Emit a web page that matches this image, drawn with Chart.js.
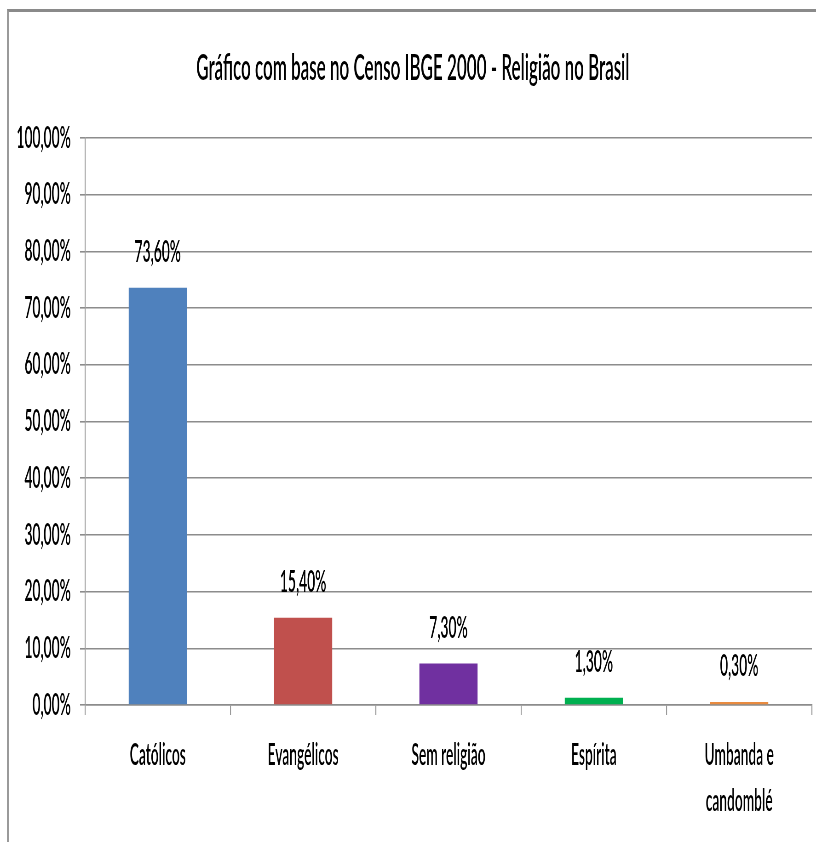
<!DOCTYPE html>
<html>
<head>
<meta charset="utf-8">
<script src="https://cdn.jsdelivr.net/npm/chart.js@4.4.1/dist/chart.umd.min.js"></script>
<style>
  html, body { margin: 0; padding: 0; background: #fff; }
  #wrap { position: relative; width: 816px; height: 842px; overflow: hidden; }
  #c { position: absolute; left: 0; top: 0; }
  #frame { position: absolute; left: 7px; top: 9px; width: 830px; height: 860px;
           border-top: 3px solid #8a8a8a; border-left: 2px solid #9a9a9a; pointer-events: none; }
</style>
</head>
<body>
<div id="wrap">
  <canvas id="c" width="1774" height="842" style="width:816px;height:842px"></canvas>
  <div id="frame"></div>
</div>
<script>
// ---- data ----
const titleText = 'Gráfico com base no Censo IBGE 2000 - Religião no Brasil';
const categories = ['Católicos', 'Evangélicos', 'Sem religião', 'Espírita', ['Umbanda e', 'candomblé']];
const values = [73.6, 15.4, 7.3, 1.3, 0.3];
const barColors = ['#4F81BD', '#C0504D', '#7030A0', '#00B050', '#E98B3F'];
const yMin = 0, yMax = 100, yStep = 10;

// ---- helpers ----
const FONT = 'Lato';
const WEIGHT = '600';
const fmt = v => v.toFixed(2).replace('.', ',') + '%';

const valueLabels = {
  id: 'valueLabels',
  afterDatasetsDraw(chart) {
    const ctx = chart.ctx;
    const meta = chart.getDatasetMeta(0);
    ctx.save();
    ctx.font = WEIGHT + ' 30px ' + FONT;
    ctx.fillStyle = '#000';
    ctx.textAlign = 'center';
    ctx.textBaseline = 'alphabetic';
    meta.data.forEach((bar, i) => {
      ctx.fillText(fmt(values[i]), bar.x, bar.y - 26);
    });
    ctx.restore();
  }
};

new Chart(document.getElementById('c'), {
  type: 'bar',
  data: {
    labels: categories,
    datasets: [{
      data: values,
      backgroundColor: barColors,
      borderWidth: 0,
      barPercentage: 0.4,
      categoryPercentage: 1.0,
      minBarLength: 3
    }]
  },
  options: {
    responsive: false,
    animation: false,
    devicePixelRatio: 1,
    layout: { padding: { top: 0, left: 30, right: 9, bottom: 0 } },
    plugins: {
      legend: { display: false },
      tooltip: { enabled: false },
      title: {
        display: true,
        text: titleText,
        color: '#000',
        font: { family: FONT, size: 37, weight: WEIGHT, lineHeight: 1.2 },
        padding: { top: 46, bottom: 47.6 }
      }
    },
    scales: {
      x: {
        grid: { offset: true, drawOnChartArea: false, drawTicks: true, tickLength: 10, color: '#9a9a9a', lineWidth: 2.2 },
        border: { display: true, color: '#8c8c8c', width: 1.6 },
        ticks: { color: '#000', padding: 17, maxRotation: 0, autoSkip: false,
                 font: { family: FONT, size: 30, weight: WEIGHT, lineHeight: 1.55 } },
        afterFit(scale) { scale.height = 137; }
      },
      y: {
        min: yMin, max: yMax,
        grid: { color: '#8c8c8c', lineWidth: 1.6, tickLength: 11, drawTicks: true },
        border: { display: true, color: '#9a9a9a', width: 2.2 },
        ticks: { stepSize: yStep, color: '#000', padding: 20,
                 font: { family: FONT, size: 30, weight: WEIGHT },
                 callback: v => fmt(v) },
        afterFit(scale) { scale.width = 155; }
      }
    }
  },
  plugins: [valueLabels]
});
</script>
</body>
</html>
